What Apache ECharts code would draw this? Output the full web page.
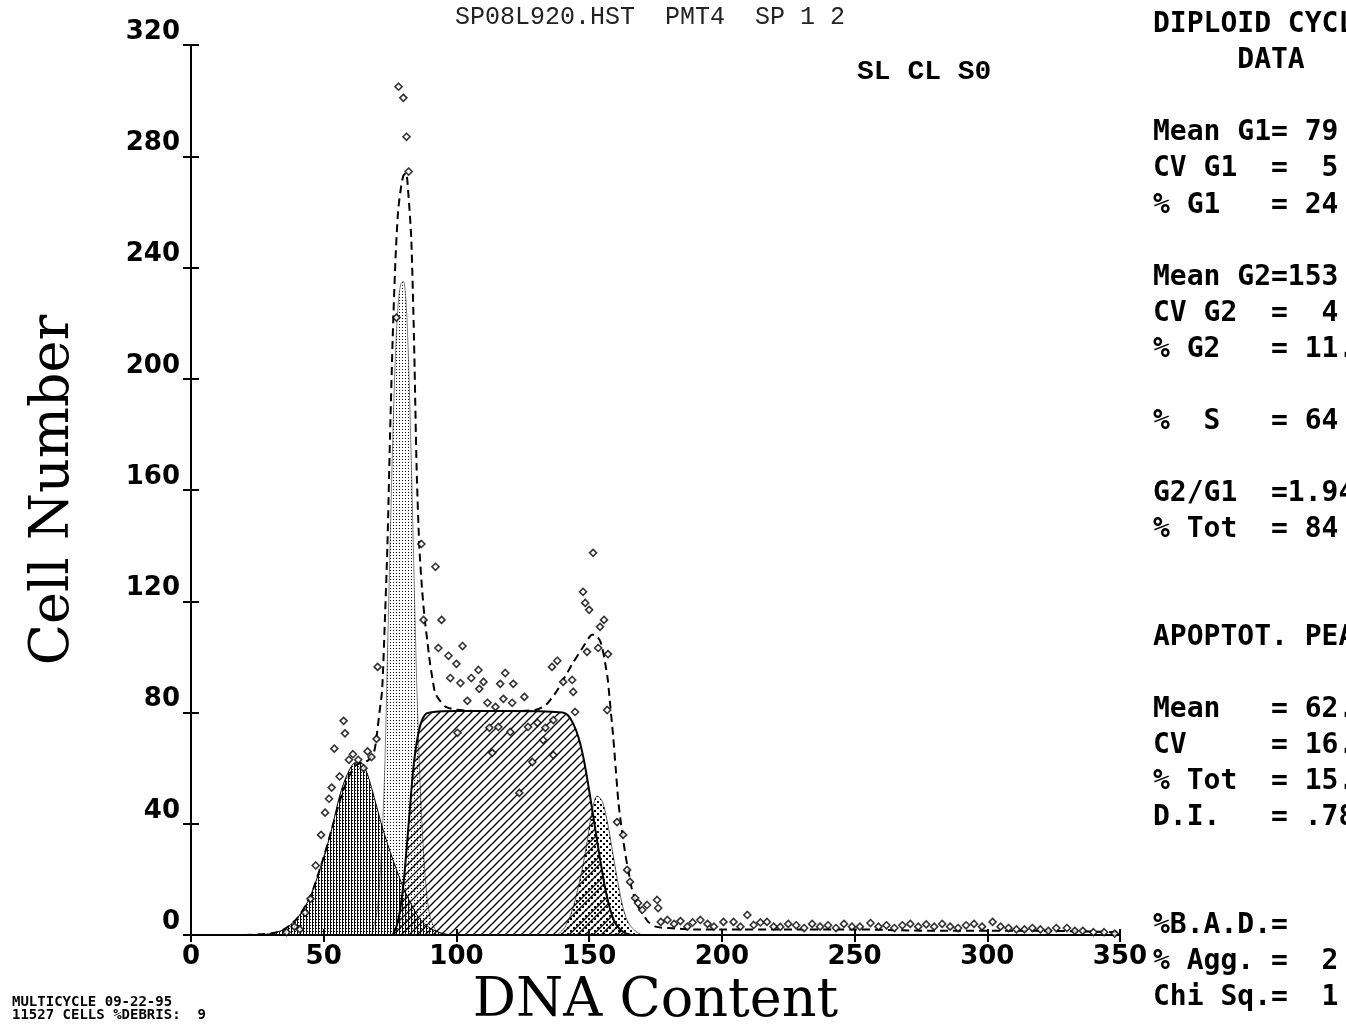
<!DOCTYPE html>
<html><head><meta charset="utf-8">
<script src="https://cdn.jsdelivr.net/npm/echarts@6/dist/echarts.min.js"></script>
<style>html,body{margin:0;padding:0;background:#fff}#c{width:1346px;height:1030px}</style>
</head><body><div id="c"></div><script>
// ---------- data ----------
const xMin = 0, xMax = 350, xStep = 50;
const yMin = 0, yMax = 320, yStep = 40;

// Apoptotic peak component
const apoX = [25,30,35,40,45,50,53,56,59,62,64,66,68,70,72,75,78,80,83,86,90,95,100];
const apoY = [0,0.5,2,6,14,28,38,50,58,62,62,59,53,46,39,30,22,17,11,6,2.5,0.5,0];

// G1 component
const g1X = [68,70,71,72,73,74,75,76,77,78,79,80,81,82,83,84,85,86,87,88,89,90,92,95];
const g1Y = [0,8,18,35,60,100,140,178,208,226,234,235,228,205,170,130,92,62,40,24,13,7,2,0];

// S-phase component
const sX = [76,78,80,82,84,86,88,90,100,120,140,142,144,146,148,150,152,154,156,158,160,163,166];
const sY = [0,5,18,40,62,74,79,80,80.5,80.5,80,79,76,71,63,52,40,28,17,9,4,1,0];

// G2 component
const g2X = [138,141,144,147,149,151,153,155,157,159,161,163,165,168,170];
const g2Y = [0,3,10,22,32,44,50,48,40,29,18,9,4,1,0];

// Total fit (dashed)
const fitX = [20,30,35,40,45,50,53,56,59,62,65,67,69,70,71,72,73,74,75,76,77,78,79,80,81,82,83,84,85,86,87,88,89,90,91,92,94,96,100,110,120,130,134,138,141,144,146,148,150,151,152,154,155,156,157,158,159,160,161,162,163,164,165,166,168,170,172,175,180,190,200,220,250,280,300,320,350];
const fitY = [0,0.5,2,6,14,28,38,48,56,61,62,63,66,72,80,88,112,140,180,215,242,260,268,273,274,265,250,215,168,140,125,114,106,98,92,87,84,82,81,80.5,80.5,81,83,88,93,98,101,104,107,108,108,106,103,98,92,82,72,60,48,40,33,27,22,17,11,8,5,3,2.5,2,2,2,2,1.5,1.5,1.5,1];

// Raw histogram points
const ptX = [36,39,41,43,45,47,49,50.5,52,53,54,57.5,58,56,59.5,61,63,65,66.5,68,69.9,70.3,77.4,78.2,80,81.2,82,86.8,87.6,92.1,94.4,93.2,97,100,102.3,97.7,101.5,105.6,108.3,108.6,110.2,104.1,111.7,114.7,116.5,117.7,118.4,121,121.4,125.6,136,138,140.2,143.6,144,144.7,147.7,148.5,150,151.5,154.1,155.6,149.2,153.4,157.1,156.8,100.4,112.4,115.8,120.3,127,130.5,133.5,136.5,132.7,136.5,128.6,113.5,123.7,160.5,162.8,164.3,165.4,167.3,168.4,170,171.8,175.6,176,177,179.5,182,184.4,187,189,191.9,194.6,197,200.6,204.4,207,209.6,212,214.5,217,219.5,222,225,228,231,234,237,240,243,246,249,252,256,259,262,265,268,271,274,277,280,283,286,289,292,295,298,302,305,308,311,314,317,320,323,326,330,333,336,340,344,348];
const ptY = [1,3,2,8,13,25,36,44,49,53,67,77,72.5,57,63,65,63,60,66,64,70.5,96.4,222,305,301,287,274.5,140.6,113.3,132.4,113.3,103.2,100.4,97.5,103.9,92.4,90.6,92.4,95.3,88.5,91,84.2,83.5,82,90.3,84.9,94.2,83.5,90.3,85.6,96.4,98.6,91,91.7,87.4,80.2,123.4,119.4,116.9,137.4,110.8,113.3,101.8,103.2,101,80.9,72.7,74.5,74.8,73,74.8,76.3,74.5,77.3,70.1,64.7,62.2,65.5,51.1,40.6,36,23.4,19.1,13.3,11.5,9,10.8,12.6,9.7,4.7,5.4,4,5,3,4.5,5.4,4,3,4.7,4.7,3,7.2,3.6,4.5,4.7,3,2.9,4,3.5,2.5,4,3,3.5,2.5,4,3,3,4.3,3,3.5,2.5,3.5,4,3,3.8,3,4,3,2.5,3.5,4,3,4.7,3,2.5,2,2,2.5,2,1.5,2.5,2.5,1.5,1.5,1,1,0.5];

const titleText = 'SP08L920.HST  PMT4  SP 1 2';
const cornerText = 'SL CL S0';
const panelLines = [
  'DIPLOID CYCLE',
  '     DATA',
  '',
  'Mean G1= 79',
  'CV G1  =  5',
  '% G1   = 24',
  '',
  'Mean G2=153',
  'CV G2  =  4',
  '% G2   = 11.',
  '',
  '%  S   = 64',
  '',
  'G2/G1  =1.94',
  '% Tot  = 84',
  '',
  '',
  'APOPTOT. PEAK',
  '',
  'Mean   = 62.',
  'CV     = 16.',
  '% Tot  = 15.',
  'D.I.   = .78',
  '',
  '',
  '%B.A.D.=',
  '% Agg. =  2',
  'Chi Sq.=  1'
];
const footLines = ['MULTICYCLE 09-22-95', '11527 CELLS %DEBRIS:  9'];

// ---------- helpers ----------
const pairs = (xs, ys) => xs.map((x, i) => [x, ys[i]]);
function pat(w, h, draw) {
  const c = document.createElement('canvas');
  c.width = w; c.height = h;
  const g = c.getContext('2d');
  g.fillStyle = '#000'; g.strokeStyle = '#000';
  draw(g);
  return { image: c, repeat: 'repeat' };
}
const apoPat = pat(3, 3, g => { g.fillRect(0, 0, 1, 3); g.fillRect(1, 1, 1, 1); });
const g1Pat = pat(3, 3, g => { g.fillRect(0, 0, 1, 1); });
const sPat = pat(8, 8, g => {
  g.lineWidth = 1.3;
  g.beginPath(); g.moveTo(-1, 9); g.lineTo(9, -1); g.stroke();
  g.beginPath(); g.moveTo(-1, 1); g.lineTo(1, -1); g.stroke();
  g.beginPath(); g.moveTo(7, 9); g.lineTo(9, 7); g.stroke();
});
const g2Pat = pat(6, 6, g => { g.fillRect(0, 0, 2, 2); g.fillRect(3, 3, 2, 2); });

const tickFont = { fontFamily: 'DejaVu Sans', fontWeight: 'bold', fontSize: 26, color: '#000' };
const nameFont = { fontFamily: 'DejaVu Serif', fontSize: 54, color: '#000' };

const chart = echarts.init(document.getElementById('c'), null, { renderer: 'canvas' });
chart.setOption({
  animation: false,
  backgroundColor: '#fff',
  grid: { left: 191, right: 226, top: 45, bottom: 95, containLabel: false, outerBoundsMode: 'none' },
  xAxis: [
    { type: 'value', position: 'bottom', min: xMin, max: xMax, interval: xStep,
      name: 'DNA Content', nameLocation: 'middle', nameGap: 36, nameTextStyle: nameFont,
      axisLine: { lineStyle: { color: '#000', width: 2 } },
      axisTick: { length: 7, lineStyle: { color: '#000', width: 2 } },
      axisLabel: Object.assign({ margin: 9 }, tickFont),
      splitLine: { show: false } },
    { type: 'value', position: 'top', min: xMin, max: xMax, interval: xStep,
      axisLine: { lineStyle: { color: '#000', width: 1.5, type: [7, 2] } },
      axisTick: { length: 6, lineStyle: { color: '#000', width: 2 } },
      axisLabel: { show: false }, splitLine: { show: false } }
  ],
  yAxis: [
    { type: 'value', position: 'left', min: yMin, max: yMax, interval: yStep,
      name: 'Cell Number', nameLocation: 'middle', nameGap: 110, nameRotate: 90, nameTextStyle: nameFont,
      axisLine: { show: true, lineStyle: { color: '#000', width: 2 } },
      axisTick: { show: true, length: 8, lineStyle: { color: '#000', width: 2 } },
      axisLabel: Object.assign({ margin: 11, verticalAlign: 'bottom' }, tickFont),
      splitLine: { show: false } },
    { type: 'value', position: 'right', min: yMin, max: yMax, interval: yStep,
      axisLine: { show: true, lineStyle: { color: '#000', width: 2 } },
      axisTick: { show: true, length: 8, lineStyle: { color: '#000', width: 2 } },
      axisLabel: { show: false }, splitLine: { show: false } }
  ],
  series: [
    { name: 'S', type: 'line', data: pairs(sX, sY), showSymbol: false, smooth: 0.3, z: 2,
      lineStyle: { color: '#000', width: 2 }, areaStyle: { color: sPat, opacity: 1 } },
    { name: 'G2', type: 'line', data: pairs(g2X, g2Y), showSymbol: false, smooth: 0.3, z: 3,
      lineStyle: { color: '#000', width: 0.6 }, areaStyle: { color: g2Pat, opacity: 1 } },
    { name: 'Apoptotic', type: 'line', data: pairs(apoX, apoY), showSymbol: false, smooth: 0.3, z: 4,
      lineStyle: { color: '#000', width: 1 }, areaStyle: { color: apoPat, opacity: 1 } },
    { name: 'G1', type: 'line', data: pairs(g1X, g1Y), showSymbol: false, smooth: 0.3, z: 5,
      lineStyle: { color: '#000', width: 0.5 }, areaStyle: { color: g1Pat, opacity: 1 } },
    { name: 'Fit', type: 'line', data: pairs(fitX, fitY), showSymbol: false, smooth: 0.25, z: 6,
      lineStyle: { color: '#000', width: 2, type: [8, 5] } },
    { name: 'Data', type: 'scatter', data: pairs(ptX, ptY), symbol: 'diamond', symbolSize: 7, z: 7,
      itemStyle: { color: '#fff', borderColor: '#000', borderWidth: 1.6 } }
  ],
  graphic: [
    { type: 'text', x: 455, y: 5, style: { text: titleText, font: '25px "Liberation Mono"', fill: '#222' }, z: 10 },
    { type: 'text', x: 857, y: 58, style: { text: cornerText, font: 'bold 28px "Liberation Mono"', fill: '#000' }, z: 10 },
    { type: 'text', x: 1153, y: 7, style: { text: panelLines.join('\n'), font: 'bold 28px "DejaVu Sans Mono"', lineHeight: 36.04, fill: '#000' }, z: 10 },
    { type: 'text', x: 12, y: 996, style: { text: footLines.join('\n'), font: 'bold 14px "DejaVu Sans Mono"', lineHeight: 13, fill: '#000' }, z: 10 }
  ]
});
</script></body></html>
